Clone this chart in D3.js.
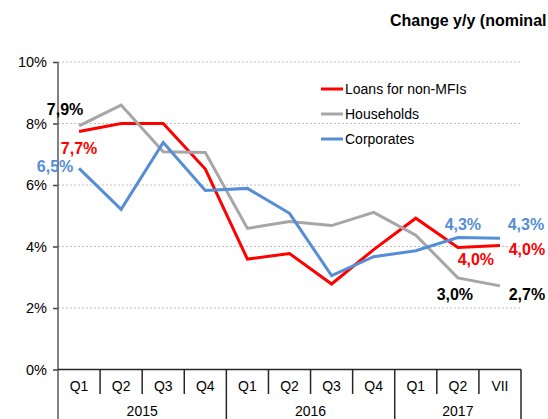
<!DOCTYPE html>
<html>
<head>
<meta charset="utf-8">
<script src="https://d3js.org/d3.v7.min.js"></script>
<style>
  body { margin: 0; background: #fff; }
  svg { font-family: "Liberation Sans", Arial, sans-serif; display: block; }
</style>
</head>
<body>
<div class="chart"></div>
<script>
// categories
const quarters = ["Q1", "Q2", "Q3", "Q4", "Q1", "Q2", "Q3", "Q4", "Q1", "Q2", "VII"];
const yearOf = ["2015", "2015", "2015", "2015", "2016", "2016", "2016", "2016", "2017", "2017", "2017"];
const years = ["2015", "2016", "2017"];
const yTicks = [0, 2, 4, 6, 8, 10];

// series values, % y/y
const loans = [7.74, 8.0, 8.0, 6.52, 3.59, 3.77, 2.78, 3.9, 4.92, 3.97, 4.03];
const households = [7.92, 8.6, 7.08, 7.06, 4.59, 4.81, 4.68, 5.11, 4.37, 2.98, 2.72];
const corporates = [6.54, 5.21, 7.38, 5.82, 5.89, 5.08, 3.05, 3.67, 3.86, 4.29, 4.27];

const series = [
    { name: "Loans for non-MFIs", values: loans, color: "#ff0000", labelColor: "#ff0000" },
    { name: "Households", values: households, color: "#a6a6a6", labelColor: "#000000" },
    { name: "Corporates", values: corporates, color: "#558ed5", labelColor: "#558ed5" }
];

// which points carry a value label
const labelled = [
    { s: 1, i: 0, dx: -14, dy: -11 },
    { s: 0, i: 0, dx: 0, dy: 23 },
    { s: 2, i: 0, dx: -24, dy: 4 },
    { s: 2, i: 9, dx: 5, dy: -8 },
    { s: 2, i: 10, dx: 26, dy: -8 },
    { s: 0, i: 9, dx: 18, dy: 18 },
    { s: 0, i: 10, dx: 27, dy: 9 },
    { s: 1, i: 9, dx: -3, dy: 22 },
    { s: 1, i: 10, dx: 27, dy: 14 }
];

const width = 548, height = 419;
const plotLeft = 58, plotRight = 521, plotTop = 62, plotBottom = 369.5;

const svg = d3.select(".chart").append("svg")
    .attr("width", width)
    .attr("height", height);

const x = d3.scaleBand()
    .domain(d3.range(quarters.length))
    .range([plotLeft, plotRight])
    .padding(0);

const y = d3.scaleLinear()
    .domain([0, 10])
    .range([plotBottom, plotTop]);

const cx = i => x(i) + x.bandwidth() / 2;
const fmt = v => d3.format(".1f")(v).replace(".", ",") + "%";

// title (the reference shows it cut at the right edge)
svg.append("text")
    .attr("x", 390)
    .attr("y", 26)
    .attr("font-size", 16)
    .attr("font-weight", "bold")
    .attr("fill", "#000")
    .text("Change y/y (nominal");

// gridlines
svg.append("g")
    .selectAll("line")
    .data(yTicks.filter(d => d > 0))
    .enter().append("line")
    .attr("x1", plotLeft)
    .attr("x2", plotRight)
    .attr("y1", d => y(d))
    .attr("y2", d => y(d))
    .attr("stroke", "#bfbfbf")
    .attr("stroke-width", 1)
    .attr("stroke-dasharray", "2,2");

// y axis
const yAxis = svg.append("g")
    .attr("transform", `translate(${plotLeft},0)`)
    .call(d3.axisLeft(y).tickValues(yTicks).tickFormat(d => d + "%").tickSize(5).tickPadding(6));
yAxis.select(".domain").remove();
yAxis.selectAll(".tick line").attr("stroke", "#404040").attr("stroke-width", 1.5);
yAxis.selectAll(".tick text")
    .attr("font-size", 14.5)
    .attr("fill", "#000")
    .attr("font-family", "Liberation Sans, Arial, sans-serif");

svg.append("line")
    .attr("x1", plotLeft).attr("x2", plotLeft)
    .attr("y1", plotTop).attr("y2", height)
    .attr("stroke", "#595959")
    .attr("stroke-width", 1.5);

// x axis line
svg.append("line")
    .attr("x1", plotLeft).attr("x2", plotRight)
    .attr("y1", plotBottom).attr("y2", plotBottom)
    .attr("stroke", "#262626")
    .attr("stroke-width", 1.5);

// category separators
const seps = d3.range(1, quarters.length + 1);
svg.append("g")
    .selectAll("line")
    .data(seps)
    .enter().append("line")
    .attr("x1", i => i === quarters.length ? plotRight : x(i))
    .attr("x2", i => i === quarters.length ? plotRight : x(i))
    .attr("y1", plotBottom)
    .attr("y2", i => (i === quarters.length || yearOf[i] !== yearOf[i - 1]) ? height : 394)
    .attr("stroke", "#262626")
    .attr("stroke-width", 1.5);

// quarter labels
svg.append("g")
    .selectAll("text")
    .data(quarters)
    .enter().append("text")
    .attr("x", (d, i) => cx(i))
    .attr("y", 391)
    .attr("text-anchor", "middle")
    .attr("font-size", 14)
    .attr("fill", "#000")
    .text(d => d);

// year labels
svg.append("g")
    .selectAll("text")
    .data(years)
    .enter().append("text")
    .attr("x", yr => {
        const idx = d3.range(quarters.length).filter(i => yearOf[i] === yr);
        return (x(idx[0]) + x(idx[idx.length - 1]) + x.bandwidth()) / 2;
    })
    .attr("y", 416)
    .attr("text-anchor", "middle")
    .attr("font-size", 14)
    .attr("fill", "#000")
    .text(d => d);

// lines
const line = d3.line()
    .x((d, i) => cx(i))
    .y(d => y(d));

svg.append("g")
    .selectAll("path")
    .data(series)
    .enter().append("path")
    .attr("d", d => line(d.values))
    .attr("fill", "none")
    .attr("stroke", d => d.color)
    .attr("stroke-width", 3)
    .attr("stroke-linejoin", "miter");

// value labels
svg.append("g")
    .selectAll("text")
    .data(labelled)
    .enter().append("text")
    .attr("x", d => cx(d.i) + d.dx)
    .attr("y", d => y(series[d.s].values[d.i]) + d.dy)
    .attr("text-anchor", "middle")
    .attr("font-size", 16)
    .attr("font-weight", "bold")
    .attr("fill", d => series[d.s].labelColor)
    .text(d => fmt(series[d.s].values[d.i]));

// legend
const legend = svg.append("g")
    .selectAll("g")
    .data(series)
    .enter().append("g")
    .attr("transform", (d, i) => `translate(321,${89 + i * 25})`);

legend.append("line")
    .attr("x1", 0).attr("x2", 22)
    .attr("y1", 0).attr("y2", 0)
    .attr("stroke", d => d.color)
    .attr("stroke-width", 3);

legend.append("text")
    .attr("x", 24)
    .attr("y", 5)
    .attr("font-size", 14)
    .attr("fill", "#000")
    .text(d => d.name);
</script>
</body>
</html>
